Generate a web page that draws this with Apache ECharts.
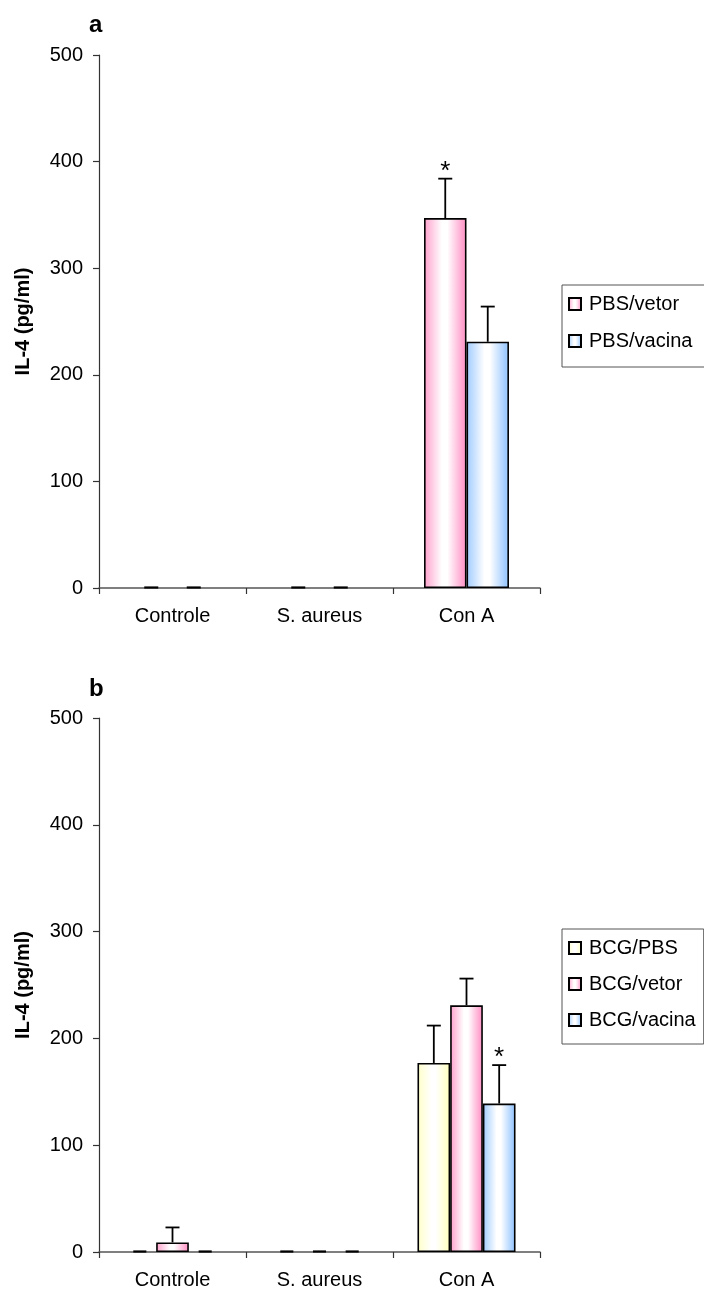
<!DOCTYPE html>
<html>
<head>
<meta charset="utf-8">
<title>IL-4</title>
<script src="https://cdn.jsdelivr.net/npm/echarts@6/dist/echarts.min.js"></script>
<style>
  html, body { margin: 0; padding: 0; background: #fff; }
  #chart { width: 704px; height: 1295px; }
</style>
</head>
<body>
<div id="chart"></div>
<script>
// Stimuli on the x axis
const categories = ['Controle', 'S. aureus', 'Con A'];

// Panel a: PBS groups, IL-4 (pg/ml) mean and error
const pbsVetor = [0, 0, 347];
const pbsVetorErr = [0, 0, 37];
const pbsVetorSig = ['', '', '*'];
const pbsVacina = [0, 0, 231];
const pbsVacinaErr = [0, 0, 33];
const pbsVacinaSig = ['', '', ''];

// Panel b: BCG groups, IL-4 (pg/ml) mean and error
const bcgPbs = [0, 0, 177];
const bcgPbsErr = [0, 0, 35];
const bcgPbsSig = ['', '', ''];
const bcgVetor = [9, 0, 231];
const bcgVetorErr = [14, 0, 25];
const bcgVetorSig = ['', '', ''];
const bcgVacina = [0, 0, 139];
const bcgVacinaErr = [0, 0, 36];
const bcgVacinaSig = ['', '', '*'];

// Value axis
const yMin = 0, yMax = 500, yStep = 100;

const FONT = "'Liberation Sans', Arial, Helvetica, sans-serif";

function grad(c) {
  return {
    type: 'linear', x: 0, y: 0, x2: 1, y2: 0,
    colorStops: [
      { offset: 0, color: c },
      { offset: 0.42, color: '#ffffff' },
      { offset: 0.55, color: '#ffffff' },
      { offset: 0.92, color: c },
      { offset: 1, color: c }
    ]
  };
}
const PINK = grad('#ff9fcc');
const BLUE = grad('#9fcbff');
const YELLOW = grad('#ffffc8');

// Panel definitions: each group of bars with its errors and markers
const panels = [
  {
    gap: 0.422,
    groups: [
      { name: 'PBS/vetor', values: pbsVetor, err: pbsVetorErr, sig: pbsVetorSig, fill: PINK },
      { name: 'PBS/vacina', values: pbsVacina, err: pbsVacinaErr, sig: pbsVacinaSig, fill: BLUE }
    ]
  },
  {
    gap: 0.333,
    groups: [
      { name: 'BCG/PBS', values: bcgPbs, err: bcgPbsErr, sig: bcgPbsSig, fill: YELLOW },
      { name: 'BCG/vetor', values: bcgVetor, err: bcgVetorErr, sig: bcgVetorSig, fill: PINK },
      { name: 'BCG/vacina', values: bcgVacina, err: bcgVacinaErr, sig: bcgVacinaSig, fill: BLUE }
    ]
  }
];

const grids = [
  { left: 99, width: 441, top: 55, height: 533 },
  { left: 99, width: 441, top: 718, height: 534 }
];

const xAxes = grids.map((g, i) => ({
  type: 'category',
  gridIndex: i,
  data: categories,
  boundaryGap: true,
  axisLine: { lineStyle: { color: '#555', width: 1.5 } },
  axisTick: { show: true, inside: false, length: 6, lineStyle: { color: '#333', width: 1.2 } },
  axisLabel: { color: '#000', fontSize: 20, fontFamily: FONT, margin: 18 },
  splitLine: { show: false }
}));

const yAxes = grids.map((g, i) => ({
  type: 'value',
  gridIndex: i,
  min: yMin, max: yMax, interval: yStep,
  name: 'IL-4 (pg/ml)',
  nameLocation: 'middle',
  nameGap: 66,
  nameTextStyle: { color: '#000', fontSize: 20, fontWeight: 'bold', fontFamily: FONT },
  axisLine: { show: true, lineStyle: { color: '#333', width: 1.2 } },
  axisTick: { show: true, inside: false, length: 6, lineStyle: { color: '#333', width: 1.2 } },
  axisLabel: { color: '#000', fontSize: 20, fontFamily: FONT, margin: 16 },
  splitLine: { show: false }
}));

const series = [];
panels.forEach((p, pi) => {
  const n = p.groups.length;
  p.groups.forEach((g) => {
    series.push({
      name: g.name,
      type: 'bar',
      xAxisIndex: pi, yAxisIndex: pi,
      // empty bars keep no outline; their baseline dash is drawn below
      data: g.values.map(v => (v === 0 ? { value: v, itemStyle: { borderWidth: 0 } } : v)),
      barGap: '0%',
      barCategoryGap: (p.gap * 100).toFixed(1) + '%',
      itemStyle: { color: g.fill, borderColor: '#000', borderWidth: 1.6 },
      emphasis: { disabled: true },
      silent: true
    });
  });
  // Error bars, significance markers and zero-value dashes drawn on top of the bars
  const errData = [];
  p.groups.forEach((g, gi) => {
    g.values.forEach((v, ci) => {
      errData.push([ci, v, g.err[ci], gi, g.sig[ci]]);
    });
  });
  series.push({
    type: 'custom',
    xAxisIndex: pi, yAxisIndex: pi,
    silent: true,
    z: 5,
    data: errData,
    encode: { x: 0, y: 1 },
    renderItem: function (params, api) {
      const ci = api.value(0), v = api.value(1), e = api.value(2), gi = api.value(3);
      const sig = errData[params.dataIndex][4];
      const band = api.size([1, 0])[0];
      const bw = band * (1 - p.gap) / n;
      const base = api.coord([ci, v]);
      const top = api.coord([ci, v + e]);
      const x = base[0] + (gi - (n - 1) / 2) * bw;
      const style = { stroke: '#000', lineWidth: 1.8 };
      const children = [];
      if (v === 0 && e === 0) {
        const hw = Math.min(7, bw * 0.2);
        children.push({ type: 'line', shape: { x1: x - hw, y1: base[1] - 0.5, x2: x + hw, y2: base[1] - 0.5 }, style: { stroke: '#000', lineWidth: 2.2 } });
      }
      if (e > 0) {
        children.push({ type: 'line', shape: { x1: x, y1: base[1], x2: x, y2: top[1] }, style: style });
        children.push({ type: 'line', shape: { x1: x - 7, y1: top[1], x2: x + 7, y2: top[1] }, style: style });
      }
      if (sig) {
        children.push({
          type: 'text',
          style: {
            text: sig, x: x, y: top[1] + 6,
            align: 'center', verticalAlign: 'bottom',
            fontSize: 26, fontFamily: FONT, fill: '#000'
          }
        });
      }
      return { type: 'group', children: children };
    }
  });
});

const legendBase = {
  orient: 'vertical',
  left: 562,
  icon: 'rect',
  itemWidth: 12,
  itemHeight: 12,
  itemGap: 17,
  selectedMode: false,
  borderColor: '#555',
  borderWidth: 1,
  textStyle: { color: '#000', fontSize: 20, fontFamily: FONT, padding: [0, 0, 0, 3] }
};

const option = {
  animation: false,
  backgroundColor: '#fff',
  title: [
    { text: 'a', left: 84, top: 8, textStyle: { fontSize: 24, fontWeight: 'bold', color: '#000', fontFamily: FONT } },
    { text: 'b', left: 84, top: 672, textStyle: { fontSize: 24, fontWeight: 'bold', color: '#000', fontFamily: FONT } }
  ],
  legend: [
    Object.assign({}, legendBase, {
      top: 285,
      padding: [9, 17, 16, 6],
      data: panels[0].groups.map(g => g.name)
    }),
    Object.assign({}, legendBase, {
      top: 929,
      itemGap: 16,
      padding: [9, 8, 14, 6],
      data: panels[1].groups.map(g => g.name)
    })
  ],
  grid: grids,
  xAxis: xAxes,
  yAxis: yAxes,
  series: series
};

const chart = echarts.init(document.getElementById('chart'), null, { renderer: 'canvas' });
chart.setOption(option);
</script>
</body>
</html>
